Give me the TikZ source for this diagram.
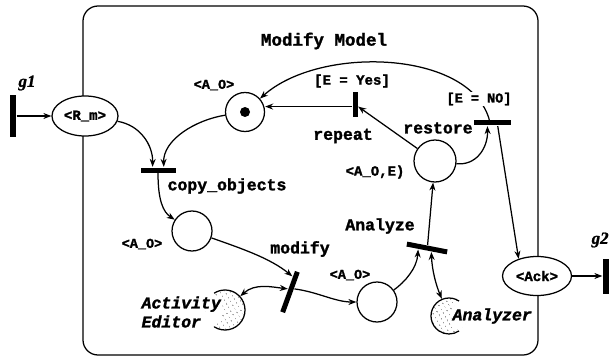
\documentclass[tikz,border=0pt]{standalone}
\usepackage{fontspec}
\setmainfont{Liberation Serif}[BoldItalicFeatures={FakeBold=1.2}]
\setmonofont{Liberation Mono}[BoldFeatures={FakeBold=1.6},BoldItalicFeatures={FakeBold=1.6}]
\usetikzlibrary{arrows.meta,patterns.meta,shapes.geometric,calc}

\begin{document}
\begin{tikzpicture}[x=1pt,y=-1pt,line width=1.25pt,
  txt/.style={font=\ttfamily\bfseries\fontsize{#1}{#1}\selectfont, inner sep=1pt},
  txt/.default=16.5,
  ittxt/.style={font=\ttfamily\bfseries\itshape\fontsize{16.5}{19}\selectfont, inner sep=1pt},
  gate/.style={font=\bfseries\itshape\fontsize{17}{17}\selectfont, inner sep=1pt},
  place/.style={circle, draw, fill=white, minimum size=#1, inner sep=0pt},
  place/.default=40pt,
  oval/.style={ellipse, draw, fill=white, inner sep=0pt,
    font=\ttfamily\bfseries\fontsize{14}{14}\selectfont},
  bar/.style={rectangle, fill=black, draw=none, inner sep=0pt,
    minimum width=#1, minimum height=5pt},
  flow/.style={-{Stealth[length=8pt,width=6pt]}},
  flowboth/.style={{Stealth[length=8pt,width=6pt]}-{Stealth[length=8pt,width=6pt]}},
  dotfill/.style={pattern={Dots[distance=4pt,radius=0.55pt,angle=30]}},
]
\fill[white] (0,0) rectangle (609,358);
\useasboundingbox (0,0) rectangle (609,358);

% subnet frame
\draw[rounded corners=15pt] (83,6) rectangle (538,355);
\node[txt=17.5] (title) at (324,41) {Modify Model};

% places
\node[oval, minimum width=66pt, minimum height=40pt] (Rm) at (85,116) {<R\_m>};
\node[place=39pt] (tok) at (245,112) {};
\node[circle, fill=black, minimum size=10pt, inner sep=0pt] (dot) at (tok) {};
\node[place] (P1) at (192,231) {};
\node[place] (P2) at (377,302) {};
\node[place=42pt] (P3) at (435,161) {};
\node[oval, minimum width=69pt, minimum height=39pt] (Ack) at (537,276) {<Ack>};

% resources (half-hidden dotted places)
\node[circle, minimum size=40pt, inner sep=0pt] (AE) at (225,310) {};
\node[circle, minimum size=36pt, inner sep=0pt] (AZ) at (449,316) {};
\begin{scope}
  \clip (AE) circle[radius=20pt];
  \fill[dotfill, even odd rule] (AE) circle[radius=20pt] ($(AE)+(-22pt,0pt)$) circle[radius=20pt];
\end{scope}
\draw ($(AE)+(-123:20pt)$) arc[start angle=-123, end angle=123, radius=20pt];
\begin{scope}
  \clip (AZ) circle[radius=18pt];
  \fill[dotfill, even odd rule] (AZ) circle[radius=18pt] ($(AZ)+(20pt,0pt)$) circle[radius=18pt];
\end{scope}
\draw ($(AZ)+(56:18pt)$) arc[start angle=56, end angle=304, radius=18pt];

% transitions
\node[bar=42pt, minimum height=6pt, rotate=90] (g1) at (13,116) {};
\node[bar=35pt, minimum height=6pt, rotate=90] (g2) at (606,276) {};
\node[bar=35pt] (copy) at (158,170) {};
\node[bar=43pt, rotate=70] (mod) at (290,292) {};
\node[bar=41pt, rotate=-11] (ana) at (427,248) {};
\node[bar=25pt, rotate=90] (rep) at (355,105) {};
\node[bar=37pt] (res) at (492,123) {};

% attachment points on the bars
\coordinate (copyA) at ($(copy.north west)!0.35!(copy.north east)$);
\coordinate (copyB) at ($(copy.north west)!0.66!(copy.north east)$);
\coordinate (copyC) at ($(copy.south west)!0.5!(copy.south east)$);
\coordinate (modA) at ($(mod.north west)!0.85!(mod.north east)$);
\coordinate (modB) at ($(mod.north west)!0.55!(mod.north east)$);
\coordinate (modC) at ($(mod.south west)!0.6!(mod.south east)$);
\coordinate (anaA) at ($(ana.south west)!0.3!(ana.south east)$);
\coordinate (anaB) at ($(ana.south west)!0.62!(ana.south east)$);
\coordinate (anaC) at ($(ana.north west)!0.5!(ana.north east)$);
\coordinate (repA) at ($(rep.south west)!0.44!(rep.south east)$);
\coordinate (repB) at ($(rep.north west)!0.44!(rep.north east)$);
\coordinate (resA) at ($(res.south west)!0.38!(res.south east)$);
\coordinate (resB) at ($(res.north west)!0.43!(res.north east)$);
\coordinate (resC) at ($(res.south west)!0.65!(res.south east)$);

% arcs
\draw[flow] (g1.south) -- (Rm.west);
\draw[flow] (Rm) .. controls (140,125) and (153,145) .. (copyA);
\draw[flow] (tok) .. controls (195,120) and (163,140) .. (copyB);
\draw[flow] (copyC) .. controls (158,200) and (163,212) .. (P1);
\draw[flow] (P1) .. controls (240,248) and (270,258) .. (modA);
\draw[flowboth] (AE) .. controls (255,283) and (272,287) .. (modB);
\draw[flow] (modC) .. controls (318,292) and (335,302) .. (P2);
\draw[flow] (P2) .. controls (405,282) and (417,268) .. (anaA);
\draw[flowboth] (anaB) .. controls (432,270) and (436,285) .. (AZ);
\draw[flow] (anaC) -- (P3);
\draw[flow] (P3) .. controls (476,166) and (488,148) .. (resA);
\draw[flow] (P3) -- (repA);
\draw[flow] (repB) -- (repB -| tok.east);
\draw[flow] (resB) .. controls (470,50) and (320,45) .. (tok);
\draw[flow] (resC) -- (Ack.137);
\draw[flow] (Ack.east) -- (g2.north);

% labels
\node[gate] (g1lbl) at (27,83) {g1};
\node[gate, anchor=west] (g2lbl) at (590,240) {g2};
\node[txt=13.5] (lt) at (214,85) {<A\_O>};
\node[txt=14] (lyes) at (352,81) {[E = Yes]};
\node[txt] (lrep) at (343,136) {repeat};
\node[txt] (lres) at (438,128) {restore};
\node[txt=13.5, fill=white] (lno) at (479,99) {[E = NO]};
\node[txt=14] (lp3) at (375,172) {<A\_O,E)};
\node[txt] (lcopy) at (227,186) {copy\_objects};
\node[txt=13.5] (lp1) at (142,244) {<A\_O>};
\node[txt] (lmod) at (300,249) {modify};
\node[txt] (lana) at (380,226) {Analyze};
\node[txt=13.5] (lp2) at (350,275) {<A\_O>};
\node[ittxt, align=left, anchor=west] (lae) at (140,312) {Activity\\Editor};
\node[ittxt, anchor=west] (laz) at (451,316) {Analyzer};
\end{tikzpicture}
\end{document}
